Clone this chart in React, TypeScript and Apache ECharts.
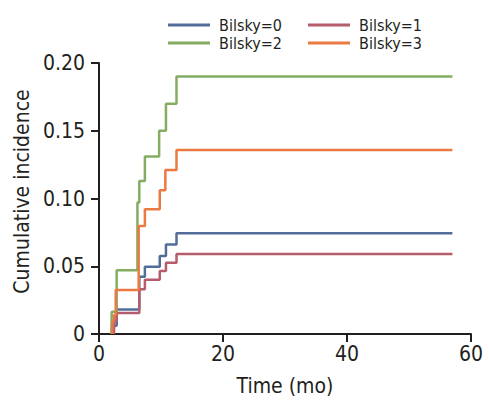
import React, { useEffect, useRef } from "react";
import * as echarts from "echarts";

const seriesNames = ["Bilsky=0", "Bilsky=1", "Bilsky=2", "Bilsky=3"];
const seriesColors = ["#536d9a", "#b55d6c", "#84ad62", "#ea7a42"];

const timesB0 = [2.3, 2.35, 2.85, 6.5, 7.4, 9.8, 10.8, 12.5, 57];
const valuesB0 = [0, 0.006, 0.018, 0.0423, 0.0497, 0.0576, 0.066, 0.0743, 0.0743];

const timesB1 = [2.4, 2.5, 2.85, 6.5, 7.4, 9.8, 10.8, 12.5, 57];
const valuesB1 = [0, 0.01, 0.0155, 0.033, 0.04, 0.0465, 0.0526, 0.059, 0.059];

const timesB2 = [2.0, 2.05, 2.85, 6.2, 6.5, 7.4, 9.7, 10.8, 12.5, 57];
const valuesB2 = [0, 0.0165, 0.047, 0.097, 0.113, 0.131, 0.15, 0.17, 0.19, 0.19];

const timesB3 = [2.1, 2.15, 2.4, 2.7, 6.4, 7.4, 9.8, 10.7, 12.5, 57];
const valuesB3 = [0, 0.009, 0.014, 0.0325, 0.0797, 0.092, 0.106, 0.121, 0.1358, 0.1358];

const xTicks = [0, 20, 40, 60];
const yTicks = [0, 0.05, 0.1, 0.15, 0.2];

const FONT = "'Liberation Sans Narrow', 'DejaVu Sans Condensed', 'Roboto Condensed', sans-serif";
const TEXT = "#231f20";

const zip = (t: number[], v: number[]) => t.map((x, i) => [x, v[i]]);

export default function App() {
  const ref = useRef<HTMLDivElement>(null);
  useEffect(() => {
    if (!ref.current) return;
    const chart = echarts.init(ref.current, undefined, { renderer: "svg" });
    const all = [zip(timesB0, valuesB0), zip(timesB1, valuesB1), zip(timesB2, valuesB2), zip(timesB3, valuesB3)];
    const legendCommon = {
      orient: "vertical" as const,
      top: 12,
      itemWidth: 42,
      itemHeight: 3,
      itemGap: 2,
      icon: "rect",
      textStyle: { fontFamily: FONT, fontSize: 16, color: TEXT, lineHeight: 16, padding: [0, 0, 0, 4] },
    };
    chart.setOption({
      animation: false,
      backgroundColor: "#ffffff",
      legend: [
        { ...legendCommon, left: 163, data: [seriesNames[0], seriesNames[2]] },
        { ...legendCommon, left: 303, data: [seriesNames[1], seriesNames[3]] },
      ],
      grid: { left: 99, right: 18, top: 63, bottom: 73 },
      xAxis: {
        type: "value",
        min: xTicks[0],
        max: xTicks[xTicks.length - 1],
        interval: 20,
        name: "Time (mo)",
        nameLocation: "middle",
        nameGap: 41,
        nameTextStyle: { fontFamily: FONT, fontSize: 21, color: TEXT },
        axisLine: { show: true, lineStyle: { color: TEXT, width: 2 } },
        axisTick: { show: true, inside: false, length: 8, lineStyle: { color: TEXT, width: 2 } },
        axisLabel: { fontFamily: FONT, fontSize: 21, color: TEXT, margin: 9 },
        splitLine: { show: false },
      },
      yAxis: {
        type: "value",
        min: yTicks[0],
        max: yTicks[yTicks.length - 1],
        interval: 0.05,
        name: "Cumulative incidence",
        nameLocation: "middle",
        nameRotate: 90,
        nameGap: 66,
        nameTextStyle: { fontFamily: FONT, fontSize: 21, color: TEXT, padding: [0, 0, 0, 14] },
        axisLine: { show: true, lineStyle: { color: TEXT, width: 2 } },
        axisTick: { show: true, inside: false, length: 8, lineStyle: { color: TEXT, width: 2 } },
        axisLabel: {
          fontFamily: FONT,
          fontSize: 21,
          color: TEXT,
          margin: 14,
          formatter: (v: number) => (v === 0 ? "0" : v.toFixed(2)),
        },
        splitLine: { show: false },
      },
      series: seriesNames.map((name, i) => ({
        name,
        type: "line",
        step: "end",
        data: all[i],
        showSymbol: false,
        symbol: "none",
        color: seriesColors[i],
        lineStyle: { color: seriesColors[i], width: 2.5 },
        z: [1, 1, 2, 3][i],
      })),
    });
    return () => chart.dispose();
  }, []);
  return <div ref={ref} style={{ width: 489, height: 407, position: "absolute", left: 0, top: 0 }} />;
}
